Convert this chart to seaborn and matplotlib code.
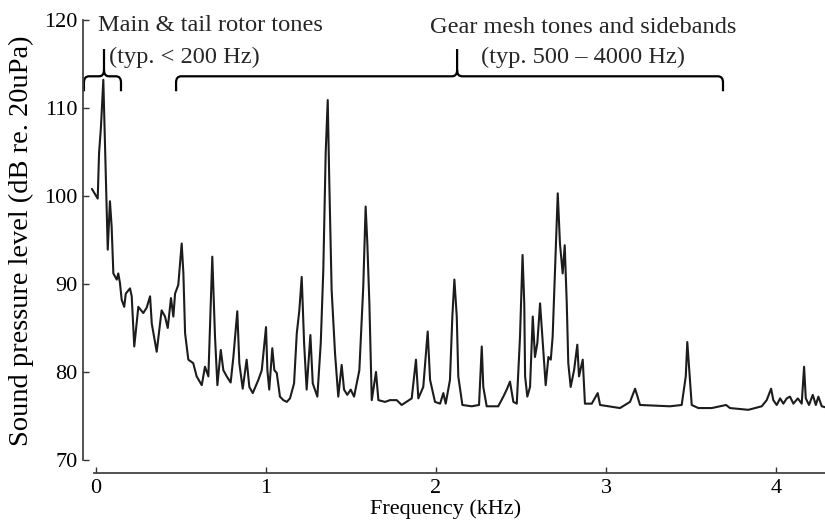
import matplotlib.pyplot as plt
import numpy as np
import pandas as pd
import seaborn as sns
from matplotlib.path import Path
from matplotlib.patches import PathPatch

# Spectrum (frequency in kHz, level in dB re. 20uPa)
freq_khz = [
    -0.024, 0.010, 0.018, 0.029, 0.043, 0.057, 0.069, 0.082, 0.092, 0.102,
    0.122, 0.131, 0.141, 0.151, 0.166, 0.175, 0.200, 0.210, 0.225, 0.249,
    0.278, 0.298, 0.318, 0.328, 0.357, 0.386, 0.406, 0.422, 0.441, 0.455,
    0.465, 0.484, 0.504, 0.514, 0.524, 0.543, 0.572, 0.592, 0.622, 0.641,
    0.661, 0.684, 0.700, 0.714, 0.734, 0.749, 0.769, 0.792, 0.808, 0.831,
    0.843, 0.863, 0.886, 0.902, 0.922, 0.955, 0.975, 1.000, 1.008, 1.019,
    1.037, 1.049, 1.063, 1.082, 1.102, 1.122, 1.141, 1.165, 1.181, 1.196,
    1.210, 1.224, 1.239, 1.261, 1.275, 1.302, 1.322, 1.337, 1.351, 1.363,
    1.372, 1.386, 1.406, 1.425, 1.445, 1.459, 1.478, 1.498, 1.518, 1.549,
    1.572, 1.586, 1.596, 1.608, 1.622, 1.647, 1.661, 1.700, 1.729, 1.769,
    1.798, 1.857, 1.882, 1.896, 1.925, 1.951, 1.965, 1.994, 2.024, 2.043,
    2.057, 2.082, 2.096, 2.108, 2.122, 2.131, 2.155, 2.210, 2.253, 2.269,
    2.278, 2.298, 2.366, 2.396, 2.416, 2.435, 2.455, 2.475, 2.494, 2.509,
    2.519, 2.524, 2.537, 2.553, 2.569, 2.582, 2.596, 2.612, 2.628, 2.645,
    2.661, 2.675, 2.686, 2.700, 2.716, 2.729, 2.745, 2.757, 2.769, 2.778,
    2.792, 2.812, 2.831, 2.841, 2.863, 2.876, 2.916, 2.951, 2.965, 3.082,
    3.141, 3.171, 3.200, 3.376, 3.445, 3.469, 3.478, 3.488, 3.504, 3.543,
    3.622, 3.706, 3.729, 3.837, 3.916, 3.945, 3.971, 3.984, 4.004, 4.024,
    4.043, 4.063, 4.082, 4.102, 4.128, 4.151, 4.165, 4.175, 4.194, 4.216,
    4.234, 4.249, 4.269, 4.288,
]
spl_db = [
    100.8, 99.7, 104.9, 107.8, 113.2, 103.0, 93.9, 99.4, 96.5, 91.2,
    90.5, 91.2, 90.1, 88.2, 87.4, 88.9, 89.5, 88.6, 82.9, 87.4,
    86.7, 87.3, 88.6, 85.5, 82.3, 87.0, 86.3, 85.0, 88.4, 86.3,
    88.9, 89.9, 94.6, 91.2, 84.4, 81.4, 81.0, 79.5, 78.5, 80.6,
    79.5, 93.1, 84.0, 78.5, 82.5, 80.2, 79.5, 78.8, 81.7, 86.9,
    81.0, 78.1, 81.4, 78.3, 77.6, 79.1, 80.2, 85.1, 80.2, 78.0,
    82.7, 80.2, 79.9, 77.2, 76.8, 76.6, 77.0, 78.7, 84.4, 87.0,
    90.8, 83.3, 78.0, 84.2, 78.7, 77.2, 83.3, 91.6, 104.9, 110.9,
    101.8, 89.3, 82.1, 77.2, 80.8, 78.0, 77.4, 78.0, 77.2, 80.2,
    89.7, 98.8, 94.6, 87.8, 76.8, 80.0, 76.8, 76.6, 76.8, 76.8,
    76.25, 77.0, 81.4, 77.0, 78.3, 84.6, 79.1, 76.6, 76.4, 77.6,
    76.4, 79.1, 86.3, 90.5, 86.3, 79.5, 76.25, 76.1, 76.25, 82.9,
    78.3, 76.1, 76.1, 77.2, 78.0, 78.9, 76.6, 76.4, 84.0, 93.3,
    87.8, 79.5, 77.2, 78.3, 86.3, 81.7, 83.3, 87.8, 83.3, 78.5,
    81.7, 81.4, 84.0, 91.6, 100.3, 94.6, 91.2, 94.4, 87.8, 81.0,
    78.3, 80.2, 83.1, 79.5, 81.4, 76.4, 76.4, 77.6, 76.25, 75.9,
    76.6, 78.1, 76.25, 76.1, 76.25, 79.5, 83.4, 80.6, 76.25, 75.9,
    75.9, 76.25, 75.9, 75.7, 76.1, 76.8, 78.1, 76.8, 76.25, 77.0,
    76.4, 77.0, 77.2, 76.4, 77.0, 76.4, 80.6, 77.0, 76.25, 77.4,
    76.25, 77.2, 76.1, 76.0,
]

x_ticks = [0, 1, 2, 3, 4]
y_ticks = [70, 80, 90, 100, 110, 120]

# Brace annotations: start, tip, end (kHz)
brace_spans = [(-0.071, 0.047, 0.147), (0.471, 2.124, 3.688)]
brace_titles = ["Main & tail rotor tones", "Gear mesh tones and sidebands"]
brace_notes = ["(typ. < 200 Hz)", "(typ. 500 \u2013 4000 Hz)"]

df = pd.DataFrame({"freq": freq_khz, "spl": spl_db})

sns.set_theme(style="ticks")
plt.rcParams["font.family"] = ["Liberation Serif", "DejaVu Serif"]

fig = plt.figure(figsize=(8.25, 5.22), dpi=100)
ax = fig.add_axes([83 / 825, 49 / 522, 742 / 825, 473 / 522])

sns.lineplot(data=df, x="freq", y="spl", ax=ax, color="#1c1c1c",
             linewidth=1.5, sort=False)

ax.set_xlim(-0.0765, 4.288)
ax.set_ylim(68.52, 122.27)
ax.set_xticks(x_ticks)
ax.set_yticks(y_ticks)
ax.tick_params(direction="in", length=4, width=1.0, colors="#333333",
               labelsize=16, labelcolor="black", pad=4)

for side in ["top", "right"]:
    ax.spines[side].set_visible(False)
ax.spines["left"].set_bounds(70, 120)
ax.spines["bottom"].set_bounds(-0.01, 4.288)
for side in ["left", "bottom"]:
    ax.spines[side].set_color("#444444")
    ax.spines[side].set_linewidth(1.3)

ax.set_xlabel("Frequency (kHz)", fontsize=16, color="black")
ax.set_ylabel("Sound pressure level (dB re. 20uPa)", fontsize=20.5, color="black")
ax.xaxis.set_label_coords(0.488, -0.055)
ax.yaxis.set_label_coords(-0.066, 0.49)


def draw_brace(ax, x0, xm, x1, y_line=113.6, y_end=111.9, y_tip=116.7):
    rx, ry = 0.03, 0.7
    verts = [
        (x0, y_end), (x0, y_line - ry),
        (x0, y_line), (x0 + rx, y_line),
        (xm - rx, y_line),
        (xm, y_line), (xm, y_line + ry),
        (xm, y_tip),
        (xm, y_line + ry),
        (xm, y_line), (xm + rx, y_line),
        (x1 - rx, y_line),
        (x1, y_line), (x1, y_line - ry),
        (x1, y_end),
    ]
    codes = [
        Path.MOVETO, Path.LINETO,
        Path.CURVE3, Path.CURVE3,
        Path.LINETO,
        Path.CURVE3, Path.CURVE3,
        Path.LINETO,
        Path.MOVETO,
        Path.CURVE3, Path.CURVE3,
        Path.LINETO,
        Path.CURVE3, Path.CURVE3,
        Path.LINETO,
    ]
    ax.add_patch(PathPatch(Path(verts, codes), facecolor="none",
                           edgecolor="black", linewidth=1.6, clip_on=False))


for (x0, xm, x1) in brace_spans:
    draw_brace(ax, x0, xm, x1)

ax.text(0.012, 119.4, brace_titles[0], fontsize=17.6, ha="left", va="center")
ax.text(0.518, 115.7, brace_notes[0], fontsize=17.6, ha="center", va="center")
ax.text(2.865, 119.2, brace_titles[1], fontsize=17.6, ha="center", va="center")
ax.text(2.864, 115.7, brace_notes[1], fontsize=17.6, ha="center", va="center")

fig.savefig("out.png", dpi=100)
